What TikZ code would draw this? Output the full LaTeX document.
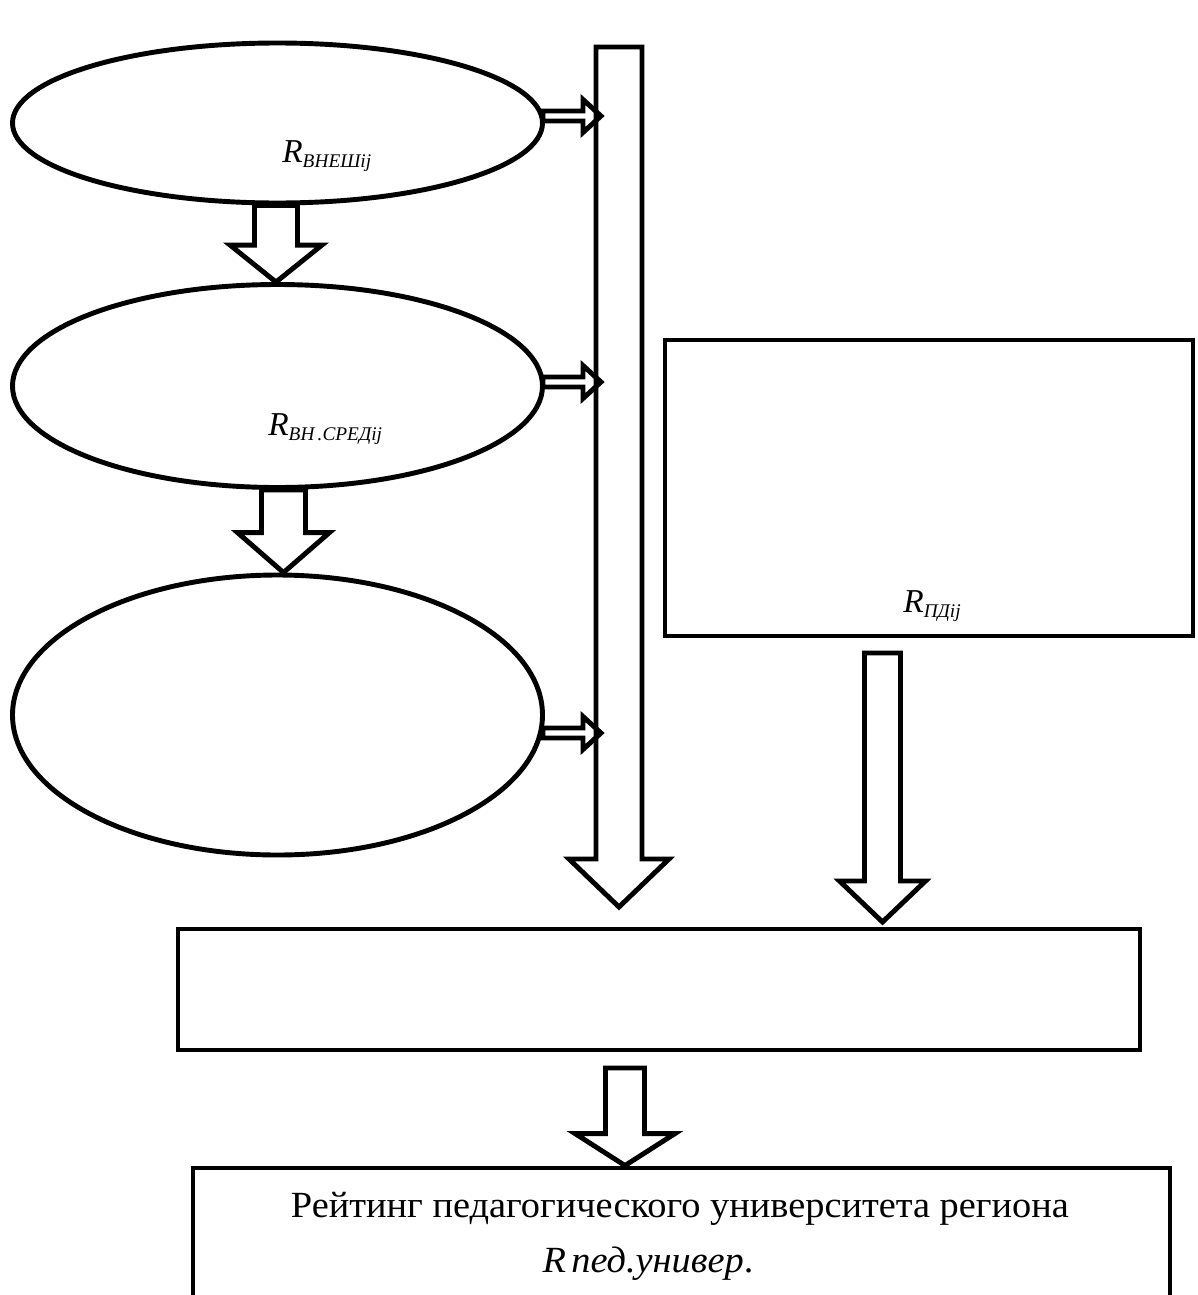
\documentclass[tikz,border=0pt]{standalone}
\usepackage{fontspec}
\setmainfont{Liberation Serif}
\usetikzlibrary{shapes.geometric,calc,backgrounds}
\tikzset{
  lw/.style={line width=2.8pt},
  oval/.style={draw, lw, ellipse, inner sep=0pt},
  box/.style={draw, lw, rectangle, inner sep=0pt},
  barrow/.style={draw, lw, fill=white, line join=miter, miter limit=10},
  hollow/.style={draw, lw, line join=miter, miter limit=10},
  rlbl/.style={inner sep=0pt, anchor=base west, font=\fontsize{19}{22}\selectfont\itshape},
  txt/.style={inner sep=0pt, anchor=base, font=\fontsize{21}{24}\selectfont\addfontfeature{FakeStretch=1.04}},
}
\newcommand\Rsub[1]{R\raisebox{-0.35ex}{\fontsize{11}{12}\selectfont #1}}
% down block arrow: #1 start, #2 tip, #3 half shaft, #4 half head, #5 head length, #6 style
\newcommand\blkdown[6]{\draw[#6] ($(#1)+(-#3,0)$) -- ($(#2)+(-#3,-#5)$) -- ($(#2)+(-#4,-#5)$) -- (#2) -- ($(#2)+(#4,-#5)$) -- ($(#2)+(#3,-#5)$) -- ($(#1)+(#3,0)$) -- cycle;}
% right block arrow
\newcommand\blkright[6]{\draw[#6] ($(#1)+(0,-#3)$) -- ($(#2)+(-#5,-#3)$) -- ($(#2)+(-#5,-#4)$) -- (#2) -- ($(#2)+(-#5,#4)$) -- ($(#2)+(-#5,#3)$) -- ($(#1)+(0,#3)$) -- cycle;}
\begin{document}
\begin{tikzpicture}[x=0.02cm, y=-0.02cm]
\useasboundingbox (0,0) rectangle (1197,1295);

% nodes
\node[oval, minimum width=530*0.02cm, minimum height=160*0.02cm] (e1) at (277.5,123) {};
\node[oval, minimum width=530*0.02cm, minimum height=203*0.02cm] (e2) at (277.5,386) {};
\node[oval, minimum width=530*0.02cm, minimum height=280*0.02cm] (e3) at (277.5,715) {};
\node[box, minimum width=528*0.02cm, minimum height=296*0.02cm] (pd) at (929,488) {};
\node[box, minimum width=962*0.02cm, minimum height=121*0.02cm] (mid) at (659,989.5) {};
\node[box, minimum width=977*0.02cm, minimum height=160*0.02cm] (bot) at (681.5,1248) {};

% labels
\node[rlbl] (l1) at (282,162) {\Rsub{ВНЕШij}};
\node[rlbl] (l2) at (268,435) {\Rsub{ВН\,.СРЕДij}};
\node[rlbl] (l3) at (903,612) {\Rsub{ПДij}};
\node[txt] (t1) at (680,1217) {Рейтинг педагогического университета региона};
\node[txt] (t2) at (648,1272) {\itshape R\kern3pt пед.универ\upshape.};

% helper coordinates
\coordinate (x276) at (276,0);
\coordinate (x283) at (283.5,0);
\coordinate (a1s) at (e1.south -| x276);
\coordinate (a1t) at (e2.north -| x276);
\coordinate (a2s) at (e2.south -| x283);
\coordinate (a2t) at (e3.north -| x283);
\coordinate (cs) at (619,47);
\coordinate (ctip) at (619,907);
\coordinate (ps) at (882.5,653);
\coordinate (ptip) at (882.5,922);
\coordinate (bs) at (625,1068);
\coordinate (x625) at (625,0);
\coordinate (btip) at (bot.north -| x625);
\coordinate (r1s) at (543,116);
\coordinate (r1t) at (601,116);
\coordinate (r2s) at (543,382);
\coordinate (r2t) at (601,382);
\coordinate (r3s) at (543,733);
\coordinate (r3t) at (601,733);

\begin{pgfonlayer}{background}
% arrows between ellipses
\blkdown{a1s}{a1t}{21.5}{46}{37}{barrow}
\blkdown{a2s}{a2t}{22}{46}{40}{barrow}
% small arrows to the column
\blkright{r1s}{r1t}{5}{16.5}{18}{barrow}
\blkright{r2s}{r2t}{5}{16.5}{18}{barrow}
\blkright{r3s}{r3t}{5}{16.5}{18}{barrow}
% column
\blkdown{cs}{ctip}{23}{50}{48}{hollow}
% from right rectangle
\blkdown{ps}{ptip}{18}{43}{41}{barrow}
% to bottom rectangle
\blkdown{bs}{btip}{19.5}{50}{32}{barrow}
\end{pgfonlayer}
\end{tikzpicture}
\end{document}
